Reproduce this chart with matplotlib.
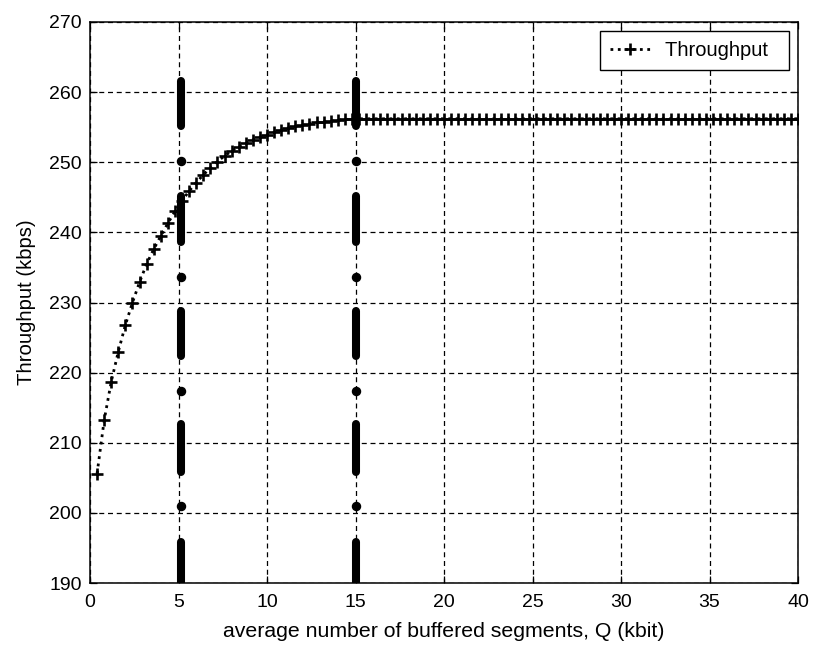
import matplotlib
matplotlib.use("Agg")
import matplotlib.pyplot as plt

# ---- data ----
q_kbit = [0.4 * k for k in range(1, 101)]
throughput = [
    205.6, 213.2, 218.7, 223.0, 226.8, 230.0, 232.9, 235.5, 237.6, 239.5,
    241.3, 243.0, 244.5, 245.9, 247.1, 248.2, 249.2, 250.1, 250.9, 251.6,
    252.2, 252.7, 253.2, 253.6, 253.9, 254.3, 254.6, 254.9, 255.1, 255.3,
    255.5, 255.7, 255.8, 255.9, 256.0, 256.1, 256.15, 256.2, 256.2, 256.2,
] + [256.2] * 60

marker_x = [5.15, 15.0]
seg_lo = [189.0, 205.9, 222.4, 238.6, 255.2]
seg_hi = [195.9, 212.7, 228.8, 245.2, 261.6]
dot_y = [201.0, 217.4, 233.7, 250.2]

xticks = [0, 5, 10, 15, 20, 25, 30, 35, 40]
yticks = [190, 200, 210, 220, 230, 240, 250, 260, 270]

plt.rcParams['font.family'] = ['Liberation Sans', 'DejaVu Sans']
plt.rcParams['font.size'] = 14

fig = plt.figure(figsize=(8.14, 6.48), dpi=100)
ax = fig.add_axes([90 / 814, 65 / 648, 708 / 814, 561 / 648])

# vertical marker columns
for xv in marker_x:
    for lo, hi in zip(seg_lo, seg_hi):
        ax.plot([xv, xv], [lo, hi], color='black', lw=5.8,
                solid_capstyle='round', zorder=3)
    ax.plot([xv] * len(dot_y), dot_y, linestyle='none', marker='o',
            markersize=5.8, color='black', zorder=3)

ax.plot(q_kbit, throughput, linestyle=':', lw=2, color='black',
        marker='+', markersize=8, markeredgewidth=1.9, label='Throughput  ',
        zorder=4)

ax.set_xlim(0, 40)
ax.set_ylim(190, 270)
ax.set_xticks(xticks)
ax.set_yticks(yticks)
ax.grid(True, color='black', linestyle=(0, (4, 3)), linewidth=0.9)
ax.set_axisbelow(True)
ax.tick_params(direction='in', top=True, right=True, length=5, width=0.9,
               labelsize=14)
ax.tick_params(axis='x', pad=8)
ax.tick_params(axis='y', pad=6)
for s in ax.spines.values():
    s.set_linewidth(1.1)
    s.set_color('black')

ax.set_xlabel('average number of buffered segments, Q (kbit)', fontsize=15.3,
              labelpad=8)
ax.set_ylabel('Throughput (kbps)', fontsize=14.6, labelpad=9)

leg = ax.legend(loc='upper right', fancybox=False, framealpha=1,
                edgecolor='black', borderaxespad=0.45, handlelength=2.0,
                borderpad=0.5, handletextpad=0.7, fontsize=14.5)
leg.get_frame().set_linewidth(1.0)

fig.savefig('out.png', dpi=100)
